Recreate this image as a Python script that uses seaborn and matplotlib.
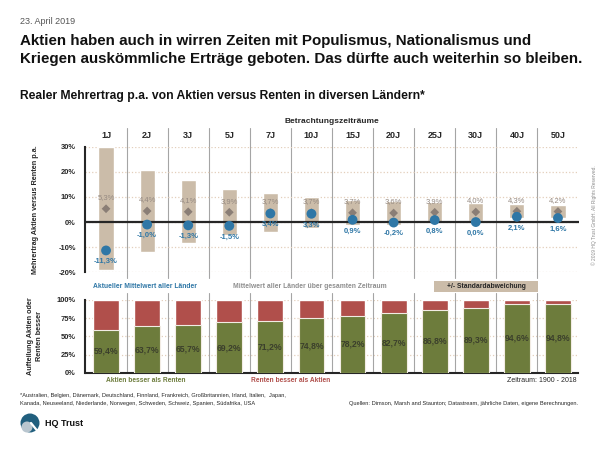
import matplotlib.pyplot as plt
import numpy as np
import pandas as pd
import seaborn as sns
from matplotlib.patches import Ellipse, Rectangle
from matplotlib.transforms import blended_transform_factory


# 1. Daten
PERIODS = ["1J", "2J", "3J", "5J", "7J", "10J", "15J", "20J", "25J", "30J", "40J", "50J"]
MEAN_ALL = [5.3, 4.4, 4.1, 3.9, 3.7, 3.7, 3.7, 3.6, 3.9, 4.0, 4.3, 4.2]
STD_DEV = [24.4, 16.2, 12.5, 9.2, 7.7, 6.1, 5.0, 4.6, 4.0, 3.4, 2.7, 2.6]
MEAN_NOW = [-11.3, -1.0, -1.3, -1.5, 3.4, 3.3, 0.9, -0.2, 0.8, 0.0, 2.1, 1.6]
SHARE_STOCKS = [59.4, 63.7, 65.7, 69.2, 71.2, 74.8, 78.2, 82.7, 86.8, 89.3, 94.6, 94.8]
SHARE_TOTAL = [100.0] * len(PERIODS)
TOP_TICKS = [-20, -10, 0, 10, 20, 30]
BOTTOM_TICKS = [0, 25, 50, 75, 100]

# 2. Farben / Schriften
TAN = "#cbbca9"
DIAMOND = "#8a7e76"
BLUE = "#2f77a6"
GREEN = "#6d7c3c"
RED = "#b04f4b"
GRID = "#e3cfbb"
SEP = "#a5a5a5"
DARK = "#262626"
NARROW = ["Liberation Sans Narrow", "Liberation Sans", "DejaVu Sans"]

sns.set_theme(style="white")
plt.rcParams["font.family"] = ["Liberation Sans", "DejaVu Sans"]


def pct(v):
    return f"{v:.1f}%".replace(".", ",")


df = pd.DataFrame({
    "pos": np.arange(len(PERIODS)),
    "Zeitraum": PERIODS,
    "Mittel": MEAN_ALL,
    "Std": STD_DEV,
    "Aktuell": MEAN_NOW,
    "Aktien": SHARE_STOCKS,
    "Gesamt": SHARE_TOTAL,
})

W, H = 600, 450


def rect(x0, y0, x1, y1):
    # Pixelkoordinaten -> Figure-Koordinaten
    return [x0 / W, 1 - y1 / H, (x1 - x0) / W, (y1 - y0) / H]


fig = plt.figure(figsize=(6, 4.5), dpi=100)
ax = fig.add_axes(rect(85.5, 146.7, 578.5, 272.3))
ax2 = fig.add_axes(rect(85.5, 300, 578.5, 372.7))

# 3. Oberes Diagramm: Mehrertrag
ax.bar(df["pos"], 2 * df["Std"], bottom=df["Mittel"] - df["Std"], width=0.37,
       color=TAN, zorder=1)
ax.axhline(0, color=DARK, lw=1.6, zorder=2)
sns.scatterplot(data=df, x="pos", y="Mittel", marker="D", s=20, color=DIAMOND,
                edgecolor="none", ax=ax, zorder=3)
sns.scatterplot(data=df, x="pos", y="Aktuell", marker="o", s=50, color=BLUE,
                edgecolor="none", ax=ax, zorder=4)

for i, row in df.iterrows():
    ax.annotate(pct(row["Mittel"]), (row["pos"], row["Mittel"]), xytext=(0, 8),
                textcoords="offset points", ha="center", va="center",
                fontsize=5.5, color="#968a82", family=NARROW, zorder=5)
    ax.annotate(pct(row["Aktuell"]), (row["pos"], row["Aktuell"]), xytext=(0, -8),
                textcoords="offset points", ha="center", va="center",
                fontsize=5.5, color=BLUE, fontweight="bold", family=NARROW, zorder=5)

ax.set_xlim(-0.5, len(PERIODS) - 0.5)
ax.set_ylim(-20, 30)
ax.set_yticks(TOP_TICKS)
ax.set_yticklabels([f"{t}%" for t in TOP_TICKS], fontsize=5.4, fontweight="bold",
                   color=DARK, family=NARROW)
ax.set_xticks([])
ax.tick_params(axis="y", length=0, pad=7)
ax.grid(axis="y", color=GRID, linestyle=":", lw=0.9)
ax.set_axisbelow(True)
ax.set_xlabel("")
ax.set_ylabel("Mehrertrag Aktien versus Renten p.a.", fontsize=5.2, fontweight="bold",
              color=DARK, family=NARROW, labelpad=14)
for s in ["top", "right", "bottom"]:
    ax.spines[s].set_visible(False)
ax.spines["left"].set_color(DARK)
ax.spines["left"].set_linewidth(1.5)

trans = blended_transform_factory(ax.transData, ax.transAxes)
for i, p in enumerate(PERIODS):
    ax.text(i, 1.093, p, transform=trans, ha="center", va="center", fontsize=6.5,
            fontweight="bold", color=DARK, family=NARROW)
for i in range(len(PERIODS) - 1):
    ax.axvline(i + 0.5, ymin=-0.045, ymax=1.15, color=SEP, lw=0.8, clip_on=False, zorder=0)
ax.text(5.5, 1.2, "Betrachtungszeiträume", transform=trans, ha="center", va="center",
        fontsize=6.0, fontweight="bold", color=DARK, family=NARROW)

# 4. Unteres Diagramm: Aufteilung
sns.barplot(data=df, x="pos", y="Gesamt", native_scale=True, width=0.63, color=RED,
            saturation=1, ax=ax2, zorder=2)
sns.barplot(data=df, x="pos", y="Aktien", native_scale=True, width=0.63, color=GREEN,
            saturation=1, edgecolor="#f2ece4", linewidth=0.8, ax=ax2, zorder=3)
for i, row in df.iterrows():
    ax2.text(row["pos"], row["Aktien"] / 2, pct(row["Aktien"]), ha="center", va="center",
             fontsize=6.2, fontweight="bold", color="#3b3f2c", family=NARROW, zorder=4)

ax2.set_xlim(-0.5, len(PERIODS) - 0.5)
ax2.set_ylim(0, 100)
ax2.set_yticks(BOTTOM_TICKS)
ax2.set_yticklabels([f"{t}%" for t in BOTTOM_TICKS], fontsize=5.4, fontweight="bold",
                    color=DARK, family=NARROW)
ax2.set_xticks([])
ax2.tick_params(axis="y", length=0, pad=7)
ax2.grid(axis="y", color=GRID, linestyle=":", lw=0.9)
ax2.set_axisbelow(True)
ax2.set_xlabel("")
ax2.set_ylabel("Aufteilung Aktien oder\nRenten besser", fontsize=5.2, fontweight="bold",
               color=DARK, family=NARROW, labelpad=10, linespacing=1.3)
for s in ["top", "right"]:
    ax2.spines[s].set_visible(False)
for s in ["left", "bottom"]:
    ax2.spines[s].set_color(DARK)
    ax2.spines[s].set_linewidth(1.5)
for i in range(len(PERIODS) - 1):
    ax2.axvline(i + 0.5, ymin=0, ymax=1.1, color=SEP, lw=0.8, clip_on=False, zorder=1)

# 5. Texte
def ftext(x, y, s, **kw):
    fig.text(x / W, 1 - y / H, s, **kw)


ftext(20, 21, "23. April 2019", fontsize=6.5, color="#555555", va="center")
ftext(20, 50, "Aktien haben auch in wirren Zeiten mit Populismus, Nationalismus und\n"
      "Kriegen auskömmliche Erträge geboten. Das dürfte auch weiterhin so bleiben.",
      fontsize=10.9, fontweight="bold", color="#111111", va="center", linespacing=1.28)
ftext(20, 96, "Realer Mehrertrag p.a. von Aktien versus Renten in diversen Ländern*",
      fontsize=8.7, fontweight="bold", color="#111111", va="center")

ftext(145, 287, "Aktueller Mittelwert aller Länder", fontsize=4.9, fontweight="bold",
      color=BLUE, ha="center", va="center", family=NARROW)
ftext(310, 287, "Mittelwert aller Länder über gesamten Zeitraum", fontsize=4.9,
      fontweight="bold", color="#8e8e8e", ha="center", va="center", family=NARROW)
fig.patches.append(Rectangle((434 / W, 1 - 292 / H), 104 / W, 11 / H, facecolor=TAN,
                             edgecolor="none", transform=fig.transFigure, figure=fig))
ftext(486, 286.5, "+/- Standardabweichung", fontsize=4.9, fontweight="bold", color=DARK,
      ha="center", va="center", family=NARROW)

ftext(146, 381, "Aktien besser als Renten", fontsize=4.8, fontweight="bold", color=GREEN,
      ha="center", va="center", family=NARROW)
ftext(291, 381, "Renten besser als Aktien", fontsize=4.8, fontweight="bold", color=RED,
      ha="center", va="center", family=NARROW)
ftext(577, 381, "Zeitraum: 1900 - 2018", fontsize=5.0, color=DARK, ha="right", va="center",
      family=NARROW)

ftext(20, 395, "*Australien, Belgien, Dänemark, Deutschland, Finnland, Frankreich, "
      "Großbritannien, Irland, Italien,  Japan,", fontsize=4.1, color=DARK, va="center",
      family=NARROW)
ftext(20, 403.5, "Kanada, Neuseeland, Niederlande, Norwegen, Schweden, Schweiz, Spanien, "
      "Südafrika, USA", fontsize=4.1, color=DARK, va="center", family=NARROW)
ftext(578, 403.5, "Quellen: Dimson, Marsh and Staunton; Datastream, jährliche Daten, "
      "eigene Berechnungen.", fontsize=4.05, color=DARK, ha="right", va="center",
      family=NARROW)

# Logo
fig.patches.append(Ellipse((30 / W, 1 - 423 / H), 19 / W, 19 / H, facecolor="#215f7e",
                           edgecolor="none", transform=fig.transFigure, figure=fig))
fig.patches.append(Ellipse((27 / W, 1 - 427 / H), 11 / W, 11 / H, facecolor="#b9c6cf",
                           edgecolor="none", transform=fig.transFigure, figure=fig))
fig.lines.append(plt.Line2D([31 / W, 39 / W], [1 - 423 / H, 1 - 433 / H], color="white",
                            lw=1.6, transform=fig.transFigure, figure=fig))
ftext(45, 424, "HQ Trust", fontsize=6.5, fontweight="bold", color="#111111", va="center")

ftext(594, 215, "© 2019 HQ Trust GmbH. All Rights Reserved.", fontsize=3.5,
      color="#8a8a8a", rotation=90, ha="center", va="center")

fig.savefig("out.png", dpi=100)
